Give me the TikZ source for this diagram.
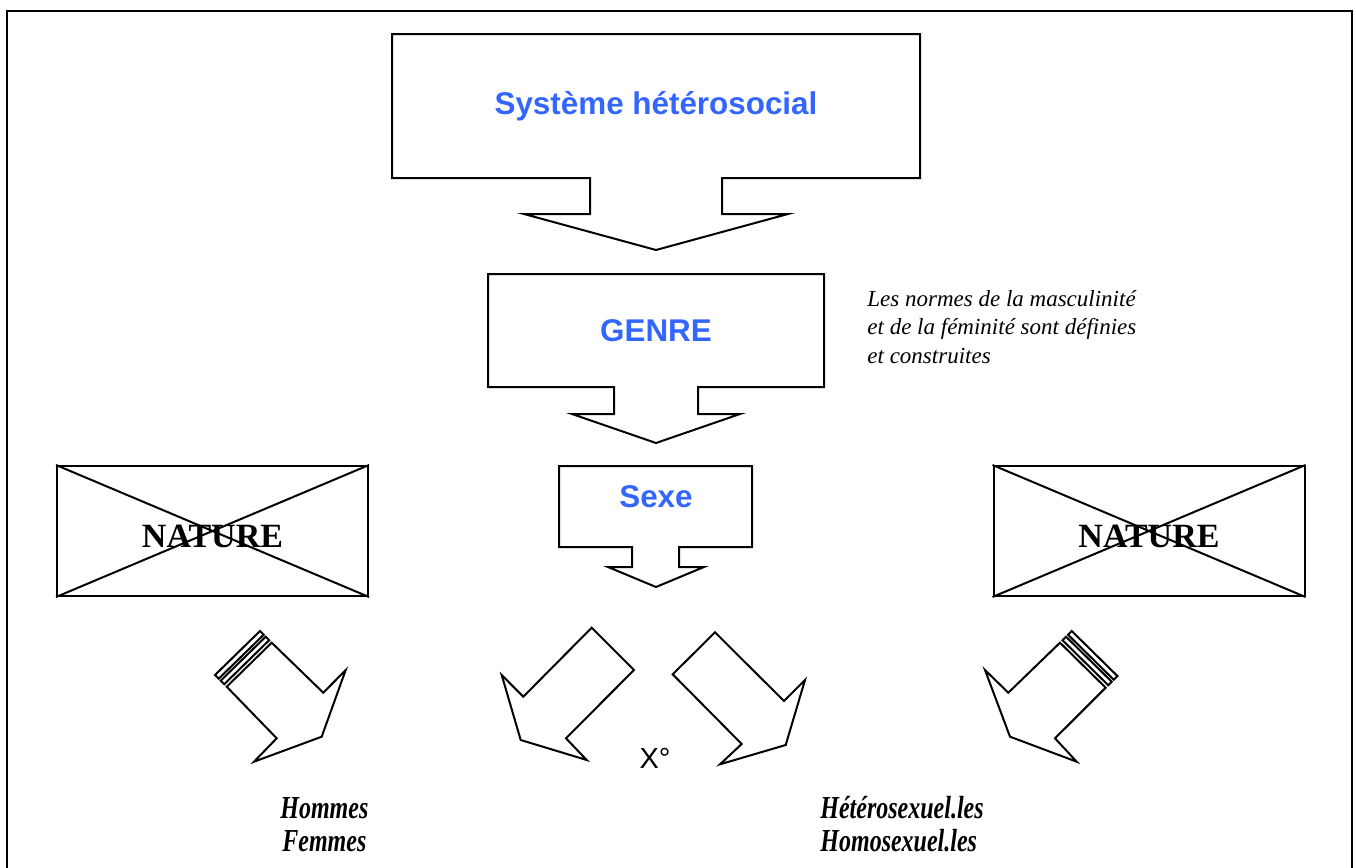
\documentclass[tikz,border=0pt]{standalone}
\usepackage{xcolor}
\usepackage{fontspec}
\setmainfont{Liberation Serif}
\newfontfamily\arialfont{Liberation Sans}
\newfontfamily\narrowfont[FakeStretch=0.75]{Liberation Serif}
\usepackage{tikz}
\usetikzlibrary{calc}
\definecolor{titleblue}{RGB}{51,102,255}

\begin{document}
\begin{tikzpicture}[x=0.5pt,y=-0.5pt,
    outline/.style={line width=1pt,line join=miter},
    bluetext/.style={anchor=base,text=titleblue,font=\arialfont\bfseries\fontsize{15.7}{18}\selectfont},
    naturebox/.style={draw,line width=1pt,minimum width=155.5pt,minimum height=65pt,inner sep=0pt},
    naturetext/.style={anchor=base,font=\bfseries\fontsize{17}{20}\selectfont},
    notetext/.style={anchor=north west,inner sep=0pt,align=left,font=\itshape\fontsize{11.5}{14.2}\selectfont},
    bottomtext/.style={anchor=base west,inner sep=0pt,font=\narrowfont\bfseries\itshape\fontsize{16}{18}\selectfont}]
    \useasboundingbox (0,0) rectangle (1356,868);
    % Frame, open at the bottom
    \draw[line width=1pt] (7,868) -- (7,11) -- (1352,11) -- (1352,868);
    % Callout: systeme heterosocial
    \draw[outline] (392,34) -- (920,34) -- (920,178) -- (722,178) -- (722,214) -- (788,214)
      -- (656,250) -- (524,214) -- (590,214) -- (590,178) -- (392,178) -- cycle;
    \node[bluetext] (systeme) at (656,114) {Système hétérosocial};
    % Callout: genre
    \draw[outline] (488,274) -- (824,274) -- (824,387) -- (698,387) -- (698,414) -- (740,414)
      -- (656,443) -- (572,414) -- (614,414) -- (614,387) -- (488,387) -- cycle;
    \node[bluetext] (genre) at (656,341) {GENRE};
    \node[notetext] (normes) at (867,290) {Les normes de la masculinité\\et de la féminité sont définies\\et construites};
    % Callout: sexe
    \draw[outline] (559,466) -- (752,466) -- (752,547) -- (679,547) -- (679,567) -- (704,567)
      -- (656,587) -- (608,567) -- (632,567) -- (632,547) -- (559,547) -- cycle;
    \node[bluetext] (sexe) at (656,507) {Sexe};
    % Crossed-out boxes
    \node[naturebox] (natureL) at (212.5,531) {};
    \node[naturebox] (natureR) at (1149,531) {};
    \foreach \n in {natureL,natureR} {
      \draw[line width=1pt] (\n.north west) -- (\n.south east) (\n.south west) -- (\n.north east);
    }
    \node[naturetext] (natureLtext) at (212.5,547) {NATURE};
    \node[naturetext] (natureRtext) at (1149,547) {NATURE};
    % Striped arrows under the boxes
    \coordinate (la) at (271.7,642.7);
    \coordinate (lb) at (226.7,686.7);
    \draw[outline] (la) -- (323.3,692.7) -- (345.7,670) -- (321.7,736.7) -- (254,761.7)
      -- (276.7,738.3) -- (lb) -- cycle;
    \foreach \a/\b in {2.5/6,8/11.7} {
      \draw[outline] ($(la)+(-\a,-\a)$) -- ($(lb)+(-\a,-\a)$) -- ($(lb)+(-\b,-\b)$) -- ($(la)+(-\b,-\b)$) -- cycle;
    }
    \coordinate (ra) at (1060,642.7);
    \coordinate (rb) at (1105.7,687.7);
    \draw[outline] (ra) -- (1008.3,692.7) -- (985,670) -- (1010,736.7) -- (1076.7,761.7)
      -- (1055,738.3) -- (rb) -- cycle;
    \foreach \a/\b in {2.5/6,8/11.7} {
      \draw[outline] ($(ra)+(\a,-\a)$) -- ($(rb)+(\a,-\a)$) -- ($(rb)+(\b,-\b)$) -- ($(ra)+(\b,-\b)$) -- cycle;
    }
    % Arrows under sexe
    \draw[outline] (591.7,627.7) -- (523.3,696.7) -- (501.7,675) -- (520.7,740) -- (586.7,760)
      -- (566,738.3) -- (634,670) -- cycle;
    \draw[outline] (715,632.3) -- (784,701) -- (805,680) -- (785.7,745) -- (720,764.3)
      -- (741.7,744) -- (672.7,674.3) -- cycle;
    \node[anchor=base,font=\arialfont\fontsize{14.5}{17}\selectfont] (degre) at (655,768) {X°};
    % Results
    \node[bottomtext] (hommes) at (280,818) {Hommes};
    \node[bottomtext] (femmes) at (282,851) {Femmes};
    \node[bottomtext] (hetero) at (820,818) {Hétérosexuel.les};
    \node[bottomtext] (homo) at (820,851) {Homosexuel.les};
  \end{tikzpicture}
\end{document}
